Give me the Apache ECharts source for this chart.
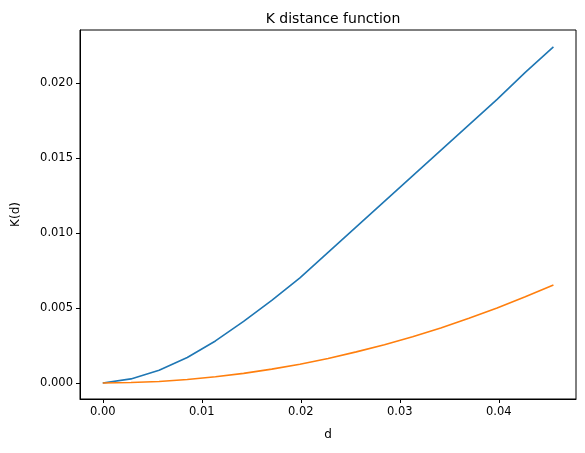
<!DOCTYPE html>
<html>
<head>
<meta charset="utf-8">
<script src="https://cdn.jsdelivr.net/npm/echarts@6/dist/echarts.min.js"></script>
<style>html,body{margin:0;padding:0;background:#fff}#c{width:585px;height:453px}</style>
</head>
<body>
<div id="c"></div>
<script>
const dValues = [0, 0.002845, 0.00569, 0.008535, 0.01138, 0.014225, 0.01707, 0.019915, 0.02276,
  0.025605, 0.02845, 0.031295, 0.03414, 0.036985, 0.03983, 0.042675, 0.04552];
const kObserved = [0, 0.00027, 0.00085, 0.0017, 0.0028, 0.0041, 0.0055, 0.0070, 0.0087,
  0.0104, 0.0121, 0.0138, 0.0155, 0.0172, 0.0189, 0.0207, 0.0224];
const kExpected = [0, 0.00003, 0.0001, 0.00023, 0.00041, 0.00064, 0.00092, 0.00125, 0.00163,
  0.00207, 0.00255, 0.00308, 0.00367, 0.00431, 0.005, 0.00574, 0.00653];
const xTicks = [0, 0.01, 0.02, 0.03, 0.04];
const yTicks = [0, 0.005, 0.01, 0.015, 0.02];

const font = 'DejaVu Sans';
const chart = echarts.init(document.getElementById('c'));
const pairs = arr => dValues.map((d, i) => [d, arr[i]]);

chart.setOption({
  animation: false,
  textStyle: { fontFamily: font },
  title: {
    text: 'K distance function', left: 328, top: 7, textAlign: 'center',
    textStyle: { fontFamily: font, fontSize: 14, fontWeight: 'normal', color: '#000' }
  },
  grid: { left: 80, right: 9, top: 30, bottom: 54, show: true, borderColor: '#000', borderWidth: 1 },
  xAxis: {
    type: 'value', min: -0.0023, max: 0.0478,
    name: 'd', nameLocation: 'middle', nameGap: 30,
    nameTextStyle: { fontFamily: font, fontSize: 12, color: '#000' },
    splitLine: { show: false },
    axisLine: { show: true, onZero: false, lineStyle: { color: '#000' } },
    axisTick: { show: true, customValues: xTicks, length: 4, lineStyle: { color: '#000' } },
    axisLabel: { customValues: xTicks, color: '#000', fontSize: 11.5, fontFamily: font, margin: 7,
      formatter: v => v.toFixed(2) }
  },
  yAxis: {
    type: 'value', min: -0.00107, max: 0.02353,
    name: 'K(d)', nameLocation: 'middle', nameGap: 58, nameRotate: 90,
    nameTextStyle: { fontFamily: font, fontSize: 12, color: '#000' },
    splitLine: { show: false },
    axisLine: { show: true, onZero: false, lineStyle: { color: '#000' } },
    axisTick: { show: true, customValues: yTicks, length: 4, lineStyle: { color: '#000' } },
    axisLabel: { customValues: yTicks, color: '#000', fontSize: 11.5, fontFamily: font, margin: 7,
      formatter: v => v.toFixed(3) }
  },
  series: [
    { type: 'line', data: pairs(kObserved), showSymbol: false, lineStyle: { color: '#1f77b4', width: 1.6 } },
    { type: 'line', data: pairs(kExpected), showSymbol: false, lineStyle: { color: '#ff7f0e', width: 1.6 } }
  ]
});
</script>
</body>
</html>
